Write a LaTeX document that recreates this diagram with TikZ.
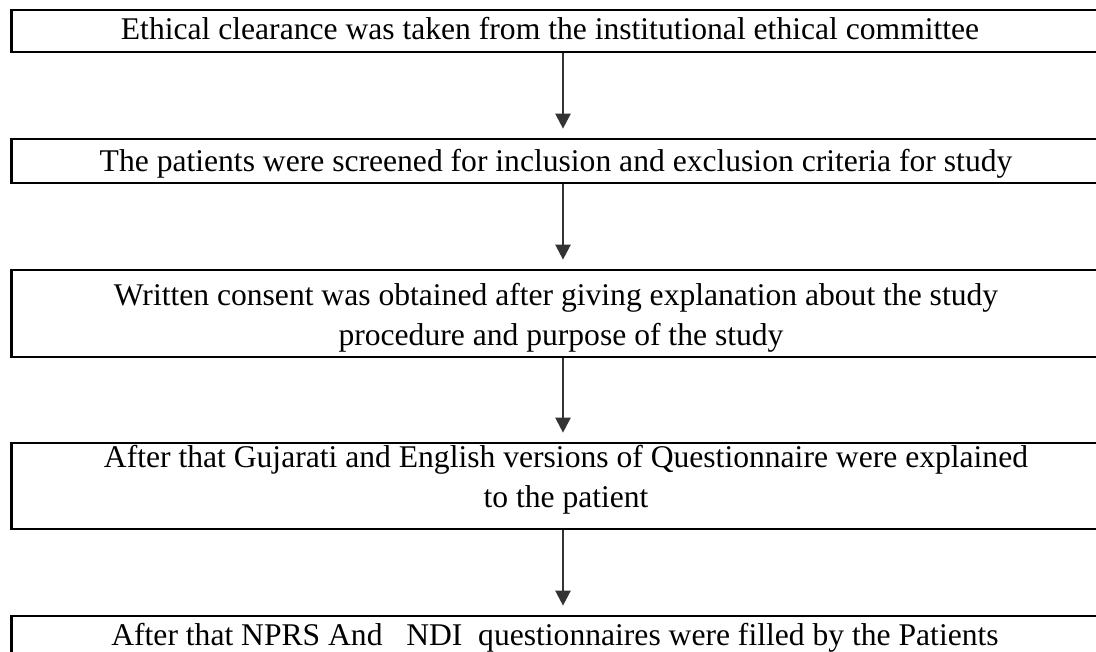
\documentclass[tikz,border=0pt]{standalone}
\usepackage{fontspec}
\setmainfont{Liberation Serif}
\usetikzlibrary{arrows.meta,calc}
\begin{document}
\begin{tikzpicture}[x=0.5pt,y=-0.5pt,
  stepbox/.style={draw=black,line width=1.35pt,anchor=west,minimum width=545pt,inner sep=0pt},
  steptext/.style={align=center,inner sep=0pt,anchor=base,font=\fontsize{15.8pt}{20pt}\selectfont},
  arr/.style={draw=black!80,line width=1.2pt,-{Triangle[width=7.5pt,length=7.5pt]}}]
\useasboundingbox (0,0) rectangle (1096,652);
\node[stepbox,minimum height=21pt] (b1) at (10,31) {};
\node[stepbox,minimum height=22pt] (b2) at (10,161) {};
\node[stepbox,minimum height=43.5pt] (b3) at (10,313.5) {};
\node[stepbox,minimum height=43pt] (b4) at (10,486) {};
\node[stepbox,minimum height=40pt] (b5) at (10,656) {};
\node[steptext] (t1) at (550,40) {Ethical clearance was taken from the institutional ethical committee};
\node[steptext] (t2) at (556,172) {The patients were screened for inclusion and exclusion criteria for study};
\node[steptext] (t3) at (556,345) {Written consent was obtained after giving explanation about the study\\\hspace*{5pt}procedure and purpose of the study};
\node[steptext] (t4) at (566,507) {After that Gujarati and English versions of Questionnaire were explained\\to the patient};
\node[steptext] (t5) at (555,645) {After that NPRS And\ \ \ NDI\ \ questionnaires were filled by the Patients};
\coordinate (ax) at (563,0);
\draw[arr] (b1.south -| ax) -- ($(b2.north -| ax)+(0,-9)$);
\draw[arr] (b2.south -| ax) -- ($(b3.north -| ax)+(0,-9)$);
\draw[arr] (b3.south -| ax) -- ($(b4.north -| ax)+(0,-9)$);
\draw[arr] (b4.south -| ax) -- ($(b5.north -| ax)+(0,-9)$);
\end{tikzpicture}
\end{document}
